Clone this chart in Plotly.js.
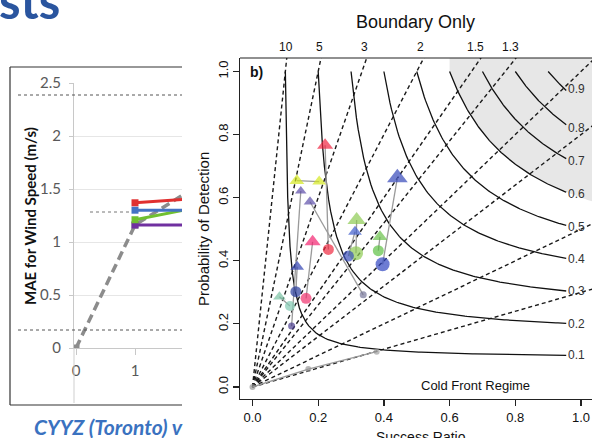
<!DOCTYPE html>
<html><head><meta charset="utf-8">
<script src="https://cdn.plot.ly/plotly-3.0.1.min.js"></script>
<style>html,body{margin:0;padding:0;background:#fff;}#chart{width:592px;height:438px;}</style>
</head><body><div id="chart"></div>
<script>
// ================= DATA =================
// Left panel: MAE for wind speed (partial Excel chart)
const leadTimes   = [0, 1, 2];
const maeRed      = [null, 1.37, 1.41];
const maeBlue     = [null, 1.30, 1.30];
const maeGreen    = [null, 1.21, 1.32];
const maePurple   = [null, 1.16, 1.16];
const maeGray     = [0, 1.16, 1.51];
const maeTickVals = [0, 0.5, 1, 1.5, 2, 2.5];
const maeTickText = ['0', '0.5', '1', '1.5', '2', '2.5'];
const leadTickVals = [0, 1];
const leadTickText = ['0', '1'];

// Right panel: performance diagram
const srTickVals  = [0, 0.2, 0.4, 0.6, 0.8, 1.0];
const srTickText  = ['0.0', '0.2', '0.4', '0.6', '0.8', '1.0'];
const podTickVals = [0, 0.2, 0.4, 0.6, 0.8, 1.0];
const podTickText = ['0.0', '0.2', '0.4', '0.6', '0.8', '1.0'];
const biasLevels  = [0.3, 0.5, 0.8, 1, 1.3, 1.5, 2, 3, 5, 10];
const biasLabelLevels = [10, 5, 3, 2, 1.5, 1.3];
const biasLabelText   = ['10', '5', '3', '2', '1.5', '1.3'];
const csiLevels   = [0.1, 0.2, 0.3, 0.4, 0.5, 0.6, 0.7, 0.8, 0.9];
const csiLabelText = ['0.1', '0.2', '0.3', '0.4', '0.5', '0.6', '0.7', '0.8', '0.9'];
const shadedCSI   = 0.6;

// forecast points (success ratio, probability of detection)
const pointSR  = [0.221, 0.135, 0.203, 0.147, 0.175, 0.441, 0.317, 0.312, 0.388, 0.183,
                  0.231, 0.315, 0.292, 0.383, 0.396, 0.136, 0.132, 0.163, 0.082, 0.114,
                  0.119, 0.337, 0.000, 0.170, 0.378];
const pointPOD = [0.766, 0.654, 0.651, 0.621, 0.587, 0.663, 0.529, 0.492, 0.476, 0.460,
                  0.436, 0.424, 0.415, 0.432, 0.389, 0.381, 0.302, 0.281, 0.286, 0.257,
                  0.193, 0.292, 0.000, 0.057, 0.112];
// pairs of point indices joined by grey lines
const pointLinks = [[0,10],[1,2],[3,20],[4,21],[5,14],[6,11],[7,12],[8,13],[9,17],[18,19],[15,16],[22,23],[23,24]];

// ================= STYLE =================
const pointColors = ['#ef2440','#d4e81e','#d4e81e','#5b4ba8','#5d4eaa','#3447b9','#8dcb52','#3d5bcc','#68c148','#f2226f',
                     '#ef2a40','#8dcb52','#3a50ba','#5cc043','#2f45c1','#3142b2','#283c9c','#f0306c','#79c2a2','#82c9b2',
                     '#4a3d8f','#76769a','#999999','#999999','#a0a0a0'];
const pointSymbol = ['triangle-up','triangle-up','triangle-up','triangle-up','triangle-up','triangle-up','triangle-up','triangle-up','triangle-up','triangle-up',
                     'circle','circle','circle','circle','circle','triangle-up','circle','circle','triangle-up','circle',
                     'circle','circle','circle','circle','circle'];
const pointSize = [14,13,12,10,11,18,16,12,13,14, 11,14,11,11,14,12,11,11,11,10, 7,7,6,6,6];

const W = 592, H = 438;
const px = v => v / W;
const py = v => 1 - v / H;

// axis geometry (pixels)
const L = {x0: 74, x1: 182, yTop: 83, yZero: 348, zeroPx: 76, onePx: 135};
const R = {x0: 240, x1: 592, yTop: 58, yBot: 399, sr0: 252.5, srScale: 328.5, pod0: 387, podScale: 315.5};

const lx0 = (L.x0 - L.zeroPx) / (L.onePx - L.zeroPx);
const lx1 = (L.x1 - L.zeroPx) / (L.onePx - L.zeroPx);
const rx0 = (R.x0 - R.sr0) / R.srScale, rx1 = (R.x1 - R.sr0) / R.srScale;
const ry0 = (R.pod0 - R.yBot) / R.podScale, ry1 = (R.pod0 - R.yTop) / R.podScale;

const traces = [];
// ---- left chart ----
const lineSeries = [
  {y: maeGray,   color: '#8c8c8c', dash: '9px,5px', width: 3.5},
  {y: maePurple, color: '#7030a0', dash: 'solid', width: 3},
  {y: maeGreen,  color: '#70c030', dash: 'solid', width: 3},
  {y: maeBlue,   color: '#4472c4', dash: 'solid', width: 3},
  {y: maeRed,    color: '#e03030', dash: 'solid', width: 3}
];
lineSeries.forEach(s => traces.push({
  type: 'scatter', mode: 'lines+markers', x: leadTimes, y: s.y, xaxis: 'x', yaxis: 'y',
  line: {color: s.color, width: s.width, dash: s.dash}, marker: {symbol: 'square', size: 7, color: s.color},
  cliponaxis: true, hoverinfo: 'skip', connectgaps: false
}));

// ---- right chart: shaded region above CSI 0.6 ----
function podOnCSI(c, sr) { return 1 / (1 / c - 1 / sr + 1); }
const shadeX = [], shadeY = [];
for (let i = 0; i <= 60; i++) {
  const sr = shadedCSI + (1.05 - shadedCSI) * i / 60;
  shadeX.push(sr); shadeY.push(podOnCSI(shadedCSI, sr));
}
shadeX.push(1.05, shadedCSI); shadeY.push(1.1, 1.1);
traces.push({type: 'scatter', mode: 'lines', x: shadeX, y: shadeY, xaxis: 'x2', yaxis: 'y2',
  fill: 'toself', fillcolor: '#e7e7e7', line: {width: 0, color: 'rgba(0,0,0,0)'}, hoverinfo: 'skip'});

// bias lines
biasLevels.forEach(b => {
  const t = 1.2 / Math.max(b, 1);
  traces.push({type: 'scatter', mode: 'lines', x: [0, t], y: [0, b * t], xaxis: 'x2', yaxis: 'y2',
    line: {color: '#1a1a1a', width: 1.4, dash: '4px,3px'}, hoverinfo: 'skip'});
});
// CSI curves
csiLevels.forEach(c => {
  const xs = [], ys = [];
  for (let i = 0; i <= 120; i++) {
    const sr = c + (0.955 - c) * i / 120;
    xs.push(sr); ys.push(podOnCSI(c, sr));
  }
  traces.push({type: 'scatter', mode: 'lines', x: xs, y: ys, xaxis: 'x2', yaxis: 'y2',
    line: {color: '#111', width: 1.3}, hoverinfo: 'skip'});
});
// link lines between forecast points
pointLinks.forEach(([a, b]) => traces.push({type: 'scatter', mode: 'lines',
  x: [pointSR[a], pointSR[b]], y: [pointPOD[a], pointPOD[b]], xaxis: 'x2', yaxis: 'y2',
  line: {color: '#9a9a9a', width: 1.3}, hoverinfo: 'skip'}));
// points
traces.push({type: 'scatter', mode: 'markers', x: pointSR, y: pointPOD, xaxis: 'x2', yaxis: 'y2',
  marker: {symbol: pointSymbol, size: pointSize, color: pointColors, line: {width: 0}},
  cliponaxis: false, hoverinfo: 'skip'});

const font = 'Liberation Sans, Arial, sans-serif';
const annotations = [];
// title fragment and caption
annotations.push({xref: 'paper', yref: 'paper', x: px(-3), y: py(31), xanchor: 'left', yanchor: 'bottom',
  text: '<b>sts</b>', showarrow: false, font: {family: 'Lato, sans-serif', size: 49, color: '#2a559f'}});
annotations.push({xref: 'paper', yref: 'paper', x: px(32), y: py(426), xanchor: 'left', yanchor: 'middle',
  text: '<b><i>CYYZ (Toronto) v</i></b>', showarrow: false, font: {family: 'Lato, sans-serif', size: 21, color: '#3a72c0'}});
// left y title
annotations.push({xref: 'paper', yref: 'paper', x: px(30), y: py(216), xanchor: 'center', yanchor: 'middle', textangle: -90,
  text: '<b>MAE for Wind Speed (m/s)</b>', showarrow: false, font: {family: 'Lato, sans-serif', size: 15, color: '#111'}});
// right panel texts
annotations.push({xref: 'paper', yref: 'paper', x: px(415), y: py(22), xanchor: 'center', yanchor: 'middle',
  text: 'Boundary Only', showarrow: false, font: {family: font, size: 18, color: '#111'}});
annotations.push({xref: 'paper', yref: 'paper', x: px(256), y: py(72), xanchor: 'center', yanchor: 'middle',
  text: '<b>b)</b>', showarrow: false, font: {family: font, size: 14, color: '#111'}});
annotations.push({xref: 'paper', yref: 'paper', x: px(475), y: py(385), xanchor: 'center', yanchor: 'middle',
  text: 'Cold Front Regime', showarrow: false, font: {family: font, size: 13, color: '#111'}});
annotations.push({xref: 'paper', yref: 'paper', x: px(203), y: py(229), xanchor: 'center', yanchor: 'middle', textangle: -90,
  text: 'Probability of Detection', showarrow: false, font: {family: font, size: 15, color: '#111'}});
annotations.push({xref: 'paper', yref: 'paper', x: px(421), y: py(427), xanchor: 'center', yanchor: 'top',
  text: 'Success Ratio', showarrow: false, font: {family: font, size: 14, color: '#111'}});
// bias labels along the top
biasLabelLevels.forEach((b, i) => annotations.push({xref: 'x2', yref: 'paper', x: 1.02 / b, y: py(47.5),
  xanchor: 'center', yanchor: 'middle', text: biasLabelText[i], showarrow: false, font: {family: font, size: 12, color: '#111'}}));
// CSI labels at the right
csiLevels.forEach((c, i) => annotations.push({xref: 'x2', yref: 'y2', x: 0.985, y: podOnCSI(c, 0.97) + (c > 0.85 ? 0.02 : 0),
  xanchor: 'center', yanchor: 'middle', text: csiLabelText[i], showarrow: false, font: {family: font, size: 12, color: '#333'}}));

const shapes = [
  // left slide chart frame
  {type: 'line', xref: 'paper', yref: 'paper', x0: px(10), x1: px(182), y0: py(67), y1: py(67), line: {color: '#333', width: 1.2}},
  {type: 'line', xref: 'paper', yref: 'paper', x0: px(10), x1: px(182), y0: py(405), y1: py(405), line: {color: '#333', width: 1.2}},
  {type: 'line', xref: 'paper', yref: 'paper', x0: px(10), x1: px(10), y0: py(67), y1: py(405), line: {color: '#333', width: 1.2}},
  // dotted guides
  {type: 'line', xref: 'paper', yref: 'paper', x0: px(18), x1: px(182), y0: py(95), y1: py(95), line: {color: '#555', width: 1, dash: 'dot'}},
  {type: 'line', xref: 'paper', yref: 'paper', x0: px(18), x1: px(182), y0: py(330), y1: py(330), line: {color: '#555', width: 1, dash: 'dot'}},
  {type: 'line', xref: 'paper', yref: 'paper', x0: px(90), x1: px(130), y0: py(212), y1: py(212), line: {color: '#777', width: 1, dash: 'dot'}},
  // y axis continuation below zero
  {type: 'line', xref: 'paper', yref: 'paper', x0: px(74), x1: px(74), y0: py(348), y1: py(403), line: {color: '#cfcfcf', width: 1}},
  // top frame line of performance diagram
  {type: 'line', xref: 'x2 domain', yref: 'y2 domain', x0: 0, x1: 1, y0: 1, y1: 1, line: {color: '#222', width: 1.2}}
];

const layout = {
  width: W, height: H, margin: {l: 0, r: 0, t: 0, b: 0}, showlegend: false,
  paper_bgcolor: '#fff', plot_bgcolor: 'rgba(0,0,0,0)',
  xaxis: {domain: [px(L.x0), px(L.x1)], range: [lx0, lx1], anchor: 'y', showgrid: false, zeroline: false,
    showline: true, linecolor: '#c8c8c8', linewidth: 1, ticks: 'outside', ticklen: 6, tickcolor: '#c8c8c8',
    tickvals: leadTickVals, ticktext: leadTickText, ticklabelstandoff: 3,
    tickfont: {family: 'Lato, sans-serif', size: 15, color: '#595959'}},
  yaxis: {domain: [py(L.yZero), py(L.yTop)], range: [0, 2.5], anchor: 'x', showgrid: true, gridcolor: '#e6e6e6',
    zeroline: false, showline: true, linecolor: '#c8c8c8', ticks: 'outside', ticklen: 4, tickcolor: '#c8c8c8',
    tickvals: maeTickVals, ticktext: maeTickText, ticklabelstandoff: 5,
    tickfont: {family: 'Lato, sans-serif', size: 15, color: '#595959'}},
  xaxis2: {domain: [px(R.x0), px(R.x1)], range: [rx0, rx1], anchor: 'y2', showgrid: false, zeroline: false,
    showline: true, linecolor: '#222', linewidth: 1.2, ticks: 'outside', ticklen: 6, tickcolor: '#222', tickwidth: 1.2,
    tickvals: srTickVals, ticktext: srTickText, tickfont: {family: font, size: 13, color: '#111'}},
  yaxis2: {domain: [py(R.yBot), py(R.yTop)], range: [ry0, ry1], anchor: 'x2', showgrid: false, zeroline: false,
    showline: true, linecolor: '#222', linewidth: 1.2, ticks: 'outside', ticklen: 6, tickcolor: '#222', tickwidth: 1.2,
    tickvals: podTickVals, ticktext: podTickText, tickangle: -90, tickfont: {family: font, size: 13, color: '#111'}},
  annotations: annotations, shapes: shapes
};

Plotly.newPlot('chart', traces, layout, {staticPlot: true, displayModeBar: false});
</script></body></html>
